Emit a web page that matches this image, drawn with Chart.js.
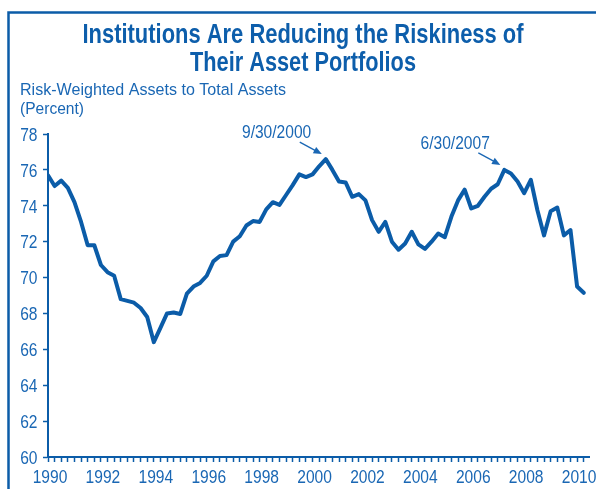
<!DOCTYPE html>
<html>
<head>
<meta charset="utf-8">
<script src="https://cdn.jsdelivr.net/npm/chart.js@4"></script>
<style>
  html, body { margin: 0; padding: 0; background: #fff; }
  canvas { display: block; }
</style>
</head>
<body>
<canvas id="riskChart" width="596" height="489"></canvas>
<script>
// Risk-weighted assets to total assets, quarterly, 1990 Q1 - 2010 Q2
const startYear = 1990;
const riskWeightedPct = [
    75.7, 75.1, 75.4, 75.0, 74.2, 73.1, 71.8, 71.8,
    70.7, 70.3, 70.1, 68.8, 68.7, 68.6, 68.3, 67.8,
    66.4, 67.2, 68.0, 68.05, 67.97, 69.1, 69.5, 69.7,
    70.1, 70.9, 71.2, 71.25, 72.0, 72.3, 72.9, 73.15,
    73.1, 73.8, 74.2, 74.05, 74.6, 75.15, 75.75, 75.6,
    75.75, 76.2, 76.6, 76.0, 75.35, 75.3, 74.5, 74.65,
    74.3, 73.2, 72.55, 73.1, 72.0, 71.55, 71.9, 72.55,
    71.85, 71.6, 72.0, 72.45, 72.25, 73.4, 74.3, 74.9,
    73.85, 74.0, 74.5, 74.95, 75.2, 76.0, 75.8, 75.35,
    74.7, 75.45, 73.75, 72.35, 73.7, 73.9, 72.35, 72.65,
    69.5, 69.15
];
const yTicks = [60, 62, 64, 66, 68, 70, 72, 74, 76, 78];
const callouts = [
    { index: 42, text: '9/30/2000' },
    { index: 69, text: '6/30/2007' }
];

const titleLines = ['Institutions Are Reducing the Riskiness of', 'Their Asset Portfolios'];
const axisTitleLines = ['Risk-Weighted Assets to Total Assets', '(Percent)'];

const lineBlue = '#0b5ca8';
const textBlue = '#1a67b4';
const labelFont = "19px 'Liberation Sans', Arial, sans-serif";
const squeeze = 0.82; // the original uses a condensed face

// draw text squeezed horizontally, either to a width or by a factor
function drawSqueezed(ctx, text, x, y, font, opts, align) {
    ctx.save();
    ctx.font = font;
    const w = ctx.measureText(text).width;
    const sx = opts.width ? opts.width / w : opts.sx;
    const outW = w * sx;
    let left = x;
    if (align === 'center') left = x - outW / 2;
    if (align === 'right') left = x - outW;
    ctx.translate(left, y);
    ctx.scale(sx, 1);
    ctx.textAlign = 'left';
    ctx.textBaseline = 'alphabetic';
    ctx.fillText(text, 0, 0);
    ctx.restore();
}

const decorations = {
    id: 'decorations',
    afterDraw(chart) {
        const ctx = chart.ctx;
        const xs = chart.scales.x, ys = chart.scales.y;

        // frame
        ctx.save();
        ctx.strokeStyle = lineBlue;
        ctx.lineWidth = 2.5;
        ctx.beginPath();
        ctx.moveTo(8.5, 489);
        ctx.lineTo(8.5, 12.5);
        ctx.lineTo(596, 12.5);
        ctx.stroke();
        ctx.restore();

        // title
        ctx.fillStyle = '#0d5eab';
        drawSqueezed(ctx, titleLines[0], 303, 42.5, "bold 27.5px 'Liberation Sans', sans-serif", { width: 441 }, 'center');
        drawSqueezed(ctx, titleLines[1], 303, 71, "bold 27.5px 'Liberation Sans', sans-serif", { width: 226 }, 'center');

        // axis title
        ctx.fillStyle = textBlue;
        drawSqueezed(ctx, axisTitleLines[0], 20, 95, "16.3px 'Liberation Sans', sans-serif", { width: 266 }, 'left');
        drawSqueezed(ctx, axisTitleLines[1], 20, 113.5, "16.3px 'Liberation Sans', sans-serif", { width: 64 }, 'left');

        // tick labels
        ys.ticks.forEach(t => {
            drawSqueezed(ctx, String(t.value), 37.5, ys.getPixelForValue(t.value) + 6.8, labelFont, { sx: squeeze }, 'right');
        });
        xs.ticks.forEach(t => {
            if (t.value % 8 !== 0) return;
            drawSqueezed(ctx, String(startYear + t.value / 4), xs.getPixelForValue(t.value) + 2, 483, labelFont, { sx: squeeze }, 'center');
        });

        // callouts with arrows
        callouts.forEach(c => {
            const px = xs.getPixelForValue(c.index);
            const py = ys.getPixelForValue(riskWeightedPct[c.index]);
            ctx.save();
            ctx.fillStyle = textBlue;
            drawSqueezed(ctx, c.text, px - 14.5, py - 21, labelFont, { sx: squeeze }, 'right');

            const x0 = px - 26, y0 = py - 17, x1 = px - 4, y1 = py - 5;
            ctx.strokeStyle = textBlue;
            ctx.lineWidth = 1.3;
            ctx.beginPath();
            ctx.moveTo(x0, y0);
            ctx.lineTo(x1 - 4, y1 - 2.3);
            ctx.stroke();
            const ang = Math.atan2(y1 - y0, x1 - x0);
            ctx.beginPath();
            ctx.moveTo(x1, y1);
            ctx.lineTo(x1 - 9 * Math.cos(ang - 0.4), y1 - 9 * Math.sin(ang - 0.4));
            ctx.lineTo(x1 - 9 * Math.cos(ang + 0.4), y1 - 9 * Math.sin(ang + 0.4));
            ctx.closePath();
            ctx.fill();
            ctx.restore();
        });
    }
};

new Chart(document.getElementById('riskChart').getContext('2d'), {
    type: 'line',
    data: {
        datasets: [{
            label: 'Risk-Weighted Assets to Total Assets',
            data: riskWeightedPct.map((v, i) => ({ x: i, y: v })),
            borderColor: lineBlue,
            borderWidth: 4,
            borderJoinStyle: 'round',
            borderCapStyle: 'round',
            pointRadius: 0,
            tension: 0,
            fill: false
        }]
    },
    options: {
        responsive: false,
        animation: false,
        layout: { padding: { top: 134, right: 7, left: 0, bottom: 0 } },
        plugins: {
            legend: { display: false },
            title: { display: false },
            tooltip: { enabled: false }
        },
        scales: {
            x: {
                type: 'linear',
                min: 0,
                max: 81.8,
                afterFit: scale => { scale.height = 32; },
                grid: { drawOnChartArea: false, drawTicks: true, tickLength: 5, tickWidth: 1.5, tickColor: lineBlue },
                border: { display: true, color: lineBlue, width: 2 },
                ticks: {
                    stepSize: 1,
                    autoSkip: false,
                    includeBounds: false,
                    maxRotation: 0,
                    color: 'rgba(0,0,0,0)',
                    callback: () => ''
                }
            },
            y: {
                min: yTicks[0],
                max: yTicks[yTicks.length - 1],
                afterFit: scale => { scale.width = 48; },
                afterBuildTicks: scale => { scale.ticks = yTicks.map(v => ({ value: v })); },
                grid: { drawOnChartArea: false, drawTicks: true, tickLength: 5, tickWidth: 1.5, tickColor: lineBlue },
                border: { display: true, color: lineBlue, width: 2 },
                ticks: {
                    color: 'rgba(0,0,0,0)',
                    callback: () => ''
                }
            }
        }
    },
    plugins: [decorations]
});
</script>
</body>
</html>
